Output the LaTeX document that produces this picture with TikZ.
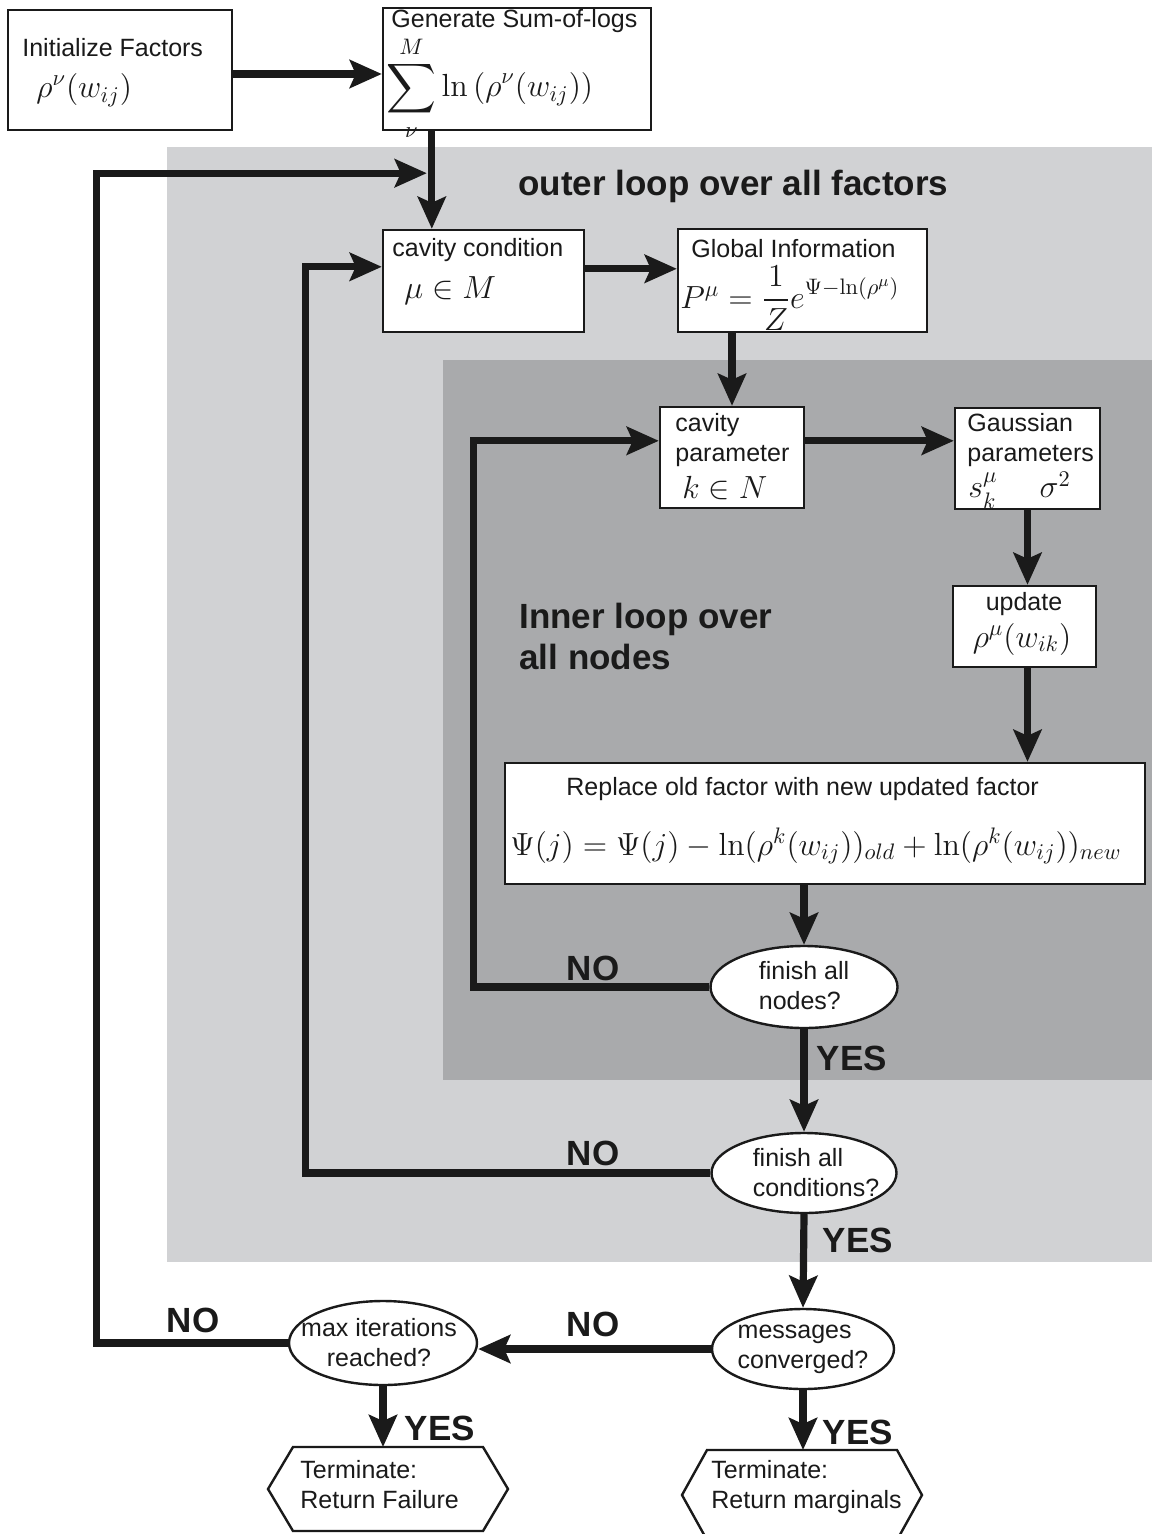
\RequirePackage{fix-cm}
\documentclass[tikz,border=0pt]{standalone}
\usepackage{amsmath}
\usepackage[no-math]{fontspec}
\setmainfont{Liberation Sans}
\usetikzlibrary{arrows.meta,calc,shapes.geometric}

\definecolor{outerbg}{HTML}{D1D2D4}
\definecolor{innerbg}{HTML}{A9AAAC}
\definecolor{ink}{HTML}{1A1A1A}

\newcommand\flowtxt{\fontsize{12.5}{15}\selectfont}
\newcommand\flowmath{\fontsize{16}{19}\selectfont}
\newcommand\flowtag{\fontsize{17.5}{20.5}\selectfont\bfseries}

\tikzset{
  box/.style={draw=ink, line width=1.2pt, fill=white, inner sep=0pt},
  oval/.style={ellipse, draw=ink, line width=1.2pt, fill=white, inner sep=0pt},
  flow/.style={draw=ink, line width=3.6pt, -{Stealth[length=16pt,width=14pt,inset=3pt]}},
  lbl/.style={font=\flowtxt, text=ink, inner sep=0pt, anchor=west},
  eq/.style={font=\flowmath, text=ink, inner sep=0pt, anchor=west},
  tag/.style={font=\flowtag, text=ink, inner sep=0pt},
  hexa/.style={draw=ink, line width=1.2pt, fill=white},
}

\begin{document}
\begin{tikzpicture}[x=0.5pt,y=-0.5pt]
\useasboundingbox (0,0) rectangle (1152,1534);
\clip (0,0) rectangle (1152,1534);
\fill[white] (0,0) rectangle (1152,1534);

% loop regions
\fill[outerbg] (167,147) rectangle (1152,1262);
\fill[innerbg] (443,360) rectangle (1152,1080);

\node[tag, anchor=west] (outerT) at (518,186) {outer loop over all factors};
\node[tag, anchor=west, align=left] (innerT) at (519,636) {Inner loop over\\all nodes};

% process boxes
\node[box, minimum width=112pt, minimum height=60pt] (init) at (120,70) {};
\node[lbl] (initT) at (22,48) {Initialize Factors};
\node[eq] (initM) at (36,90) {$\rho^{\nu}(w_{ij})$};

\node[box, minimum width=134pt, minimum height=61pt] (sum) at (517,69) {};
\node[lbl] (sumT) at (391,21) {Generate Sum-of-logs};
\node[eq] (sumM) at (386,88) {$\displaystyle\sum_{\nu}^{M}\ln\left(\rho^{\nu}(w_{ij})\right)$};

\node[box, minimum width=100.5pt, minimum height=51pt] (cavc) at (483.5,281) {};
\node[lbl] (cavcT) at (392,250) {cavity condition};
\node[eq] (cavcM) at (404,291) {$\mu\in M$};

\node[box, minimum width=124.5pt, minimum height=51.5pt] (glob) at (802.5,280.5) {};
\node[lbl] (globT) at (691,249) {Global Information};
\node[eq] (globM) at (680,298) {$P^{\mu}=\displaystyle\frac{1}{Z}e^{\Psi-\ln(\rho^{\mu})}$};

\node[box, minimum width=72pt, minimum height=50.5pt] (cavp) at (732,457.5) {};
\node[lbl, align=left] (cavpT) at (675,440) {cavity\\parameter};
\node[eq] (cavpM) at (682,488) {$k\in N$};

\node[box, minimum width=72.5pt, minimum height=50.5pt] (gauss) at (1027.5,458.5) {};
\node[lbl, align=left] (gaussT) at (967,440) {Gaussian\\parameters};
\node[eq] (gaussM) at (968,490) {$s_k^{\mu}\hspace{21pt}\sigma^{2}$};

\node[box, minimum width=71.5pt, minimum height=40.5pt] (upd) at (1024.5,626.5) {};
\node[lbl, anchor=center] (updT) at (1024,604) {update};
\node[eq, anchor=center] (updM) at (1022,639) {$\rho^{\mu}(w_{ik})$};

\node[box, minimum width=320pt, minimum height=60.5pt] (repl) at (825,823.5) {};
\node[lbl] (replT) at (566,789) {Replace old factor with new updated factor};
\node[eq] (replM) at (510,846) {$\Psi(j)=\Psi(j)-\ln(\rho^{k}(w_{ij}))_{old}+\ln(\rho^{k}(w_{ij}))_{new}$};

% decisions
\node[oval, minimum width=93.5pt, minimum height=41pt] (finn) at (804,987) {};
\node[lbl, anchor=center, align=left] (finnT) at (804,986) {finish all\\nodes?};

\node[oval, minimum width=92.5pt, minimum height=40pt] (finc) at (804,1173) {};
\node[lbl, anchor=center, align=left] (fincT) at (816,1173) {finish all\\conditions?};

\node[oval, minimum width=91pt, minimum height=40pt] (msg) at (803,1349) {};
\node[lbl, anchor=center, align=left] (msgT) at (803,1349) {messages\\converged?};

\node[oval, minimum width=94pt, minimum height=42pt] (maxit) at (383,1343) {};
\node[lbl, anchor=center, align=center] (maxitT) at (379,1343) {max iterations\\reached?};

% terminal hexagons
\draw[hexa] (268,1489) -- (293,1447) -- (483,1447) -- (508,1489) -- (483,1531) -- (293,1531) -- cycle;
\coordinate (failtop) at (383,1447);
\node[lbl, align=left] (failT) at (300,1485) {Terminate:\\Return Failure};

\draw[hexa] (682,1495) -- (707,1450) -- (897,1450) -- (922,1495) -- (897,1540) -- (707,1540) -- cycle;
\coordinate (margtop) at (803,1450);
\node[lbl, align=left] (margT) at (711,1487) {Terminate:\\Return marginals};

% connectors
\draw[flow] (init.east |- 0,74) -- (sum.west |- 0,74);
\draw[flow] ($(sum.south west)+(50,0)$) -- ($(cavc.north west)+(50,0)$);
\coordinate (loopin) at ($(sum.south west)+(45,42)$);
\draw[flow] (maxit.west) -- ++(-191,0) |- (loopin);
\draw[flow] ($(cavc.north east)+(0,40)$) -- ($(glob.north west)+(0,41)$);
\draw[flow] (glob.south -| cavp.north) -- (cavp.north);
\draw[flow] ($(cavp.north east)+(0,35)$) -- ($(gauss.north west)+(0,34)$);
\draw[flow] (gauss.south) -- (gauss.south |- upd.north);
\draw[flow] (gauss.south |- upd.south) -- (gauss.south |- repl.north);
\draw[flow] (repl.south -| finn.north) -- (finn.north);
\draw[flow] (finn.west) -- ++(-236,0) |- ($(cavp.north west)+(0,35)$);
\draw[flow] (finn.south) -- (finc.north);
\draw[flow] (finc.west) -- ++(-405,0) |- ($(cavc.north west)+(0,38)$);
\draw[flow] (finc.south) -- (msg.north);
\draw[flow] (msg.west) -- (msg.west -| maxit.east);
\draw[flow] (maxit.south) -- (failtop);
\draw[flow] (msg.south) -- (margtop);

% branch labels
\node[tag] (no1) at (593,968) {NO};
\node[tag] (yes1) at (852,1058) {YES};
\node[tag] (no2) at (593,1153) {NO};
\node[tag] (yes2) at (858,1240) {YES};
\node[tag] (no3) at (593,1324) {NO};
\node[tag] (no4) at (193,1320) {NO};
\node[tag] (yes3) at (440,1428) {YES};
\node[tag] (yes4) at (858,1432) {YES};
\end{tikzpicture}
\end{document}
